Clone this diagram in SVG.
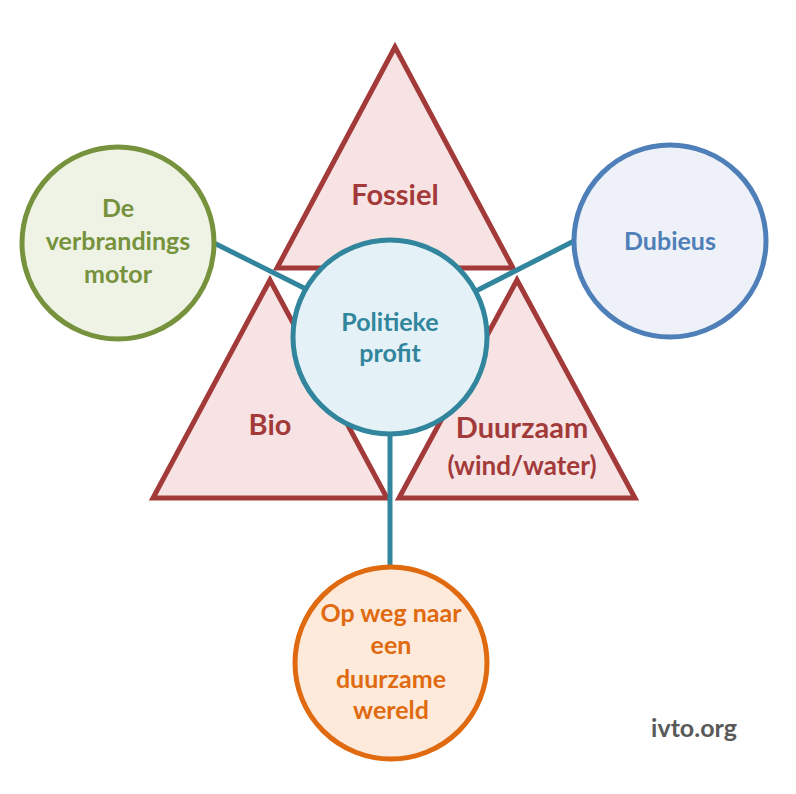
<svg xmlns="http://www.w3.org/2000/svg" width="796" height="794" viewBox="0 0 796 794">
<style>
text{font-family:Lato,"Open Sans","Liberation Sans",sans-serif;font-weight:bold;text-anchor:middle}
.tri{fill:#F7E3E3;stroke:#A33A3A;stroke-width:5;stroke-linejoin:miter}
.tt{fill:#A33A3A;font-size:29px}
.con{stroke:#31859C;stroke-width:5;fill:none}
.c{stroke-width:5}
.ct{font-size:25px}
</style>
<rect width="796" height="794" fill="#fff"/>
<g id="fossiel"><polygon class="tri" points="395,47 277,268 513,268"/><text class="tt" x="395" y="205">Fossiel</text></g>
<g id="bio"><polygon class="tri" points="270,280 153,498 387,498"/><text class="tt" x="270" y="435">Bio</text></g>
<g id="duurzaam"><polygon class="tri" points="517,280 399,498 635,498"/><text class="tt" x="522" y="438">Duurzaam</text><text class="tt" x="522" y="475" style="font-size:26px">(wind/water)</text></g>
<g id="connectors">
<line class="con" x1="214" y1="243" x2="308" y2="290"/>
<line class="con" x1="574" y1="241" x2="474" y2="292"/>
<line class="con" x1="390" y1="430" x2="390" y2="568"/>
</g>
<g id="politiek"><circle class="c" cx="390" cy="337" r="97" fill="#E4F2F7" stroke="#31859C"/><text class="ct" x="390" y="331" fill="#31859C">Politieke</text><text class="ct" x="390" y="362" fill="#31859C">profit</text></g>
<g id="motor"><circle class="c" cx="118" cy="243" r="96" fill="#EEF3E5" stroke="#76923C"/><text class="ct" x="118" y="217" fill="#76923C">De</text><text class="ct" x="118" y="250" fill="#76923C">verbrandings</text><text class="ct" x="118" y="283" fill="#76923C">motor</text></g>
<g id="dubieus"><circle class="c" cx="670" cy="241" r="96" fill="#EEF1F7" stroke="#4F7FB8"/><text class="ct" x="670" y="250" fill="#4F7FB8">Dubieus</text></g>
<g id="wereld"><circle class="c" cx="391" cy="663" r="96" fill="#FDEADB" stroke="#E06A10"/><text class="ct" x="391" y="622" fill="#E06A10">Op weg naar</text><text class="ct" x="391" y="654" fill="#E06A10">een</text><text class="ct" x="391" y="688" fill="#E06A10">duurzame</text><text class="ct" x="391" y="719" fill="#E06A10">wereld</text></g>
<text x="694" y="737" fill="#595959" font-size="25">ivto.org</text>
</svg>
